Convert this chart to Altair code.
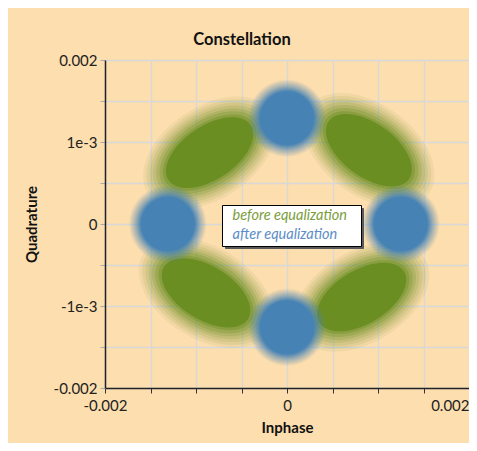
import altair as alt
import pandas as pd

# ---- data ----
series_names = ["before equalization", "after equalization"]
# cluster centres of the received symbols (Inphase, Quadrature)
green_i = [-0.85e-3, 0.90e-3, -0.89e-3, 0.82e-3]
green_q = [0.87e-3, 0.90e-3, -0.84e-3, -0.89e-3]
green_tilt = [326, 36, 32, 329]
blue_i = [0.0, 0.0, -1.31e-3, 1.25e-3]
blue_q = [1.29e-3, -1.26e-3, 0.0, 0.0]
blue_tilt = [0, 0, 0, 0]

tick_values = [-0.002, -0.0015, -0.001, -0.0005, 0.0, 0.0005, 0.001, 0.0015, 0.002]
x_label_values = [-0.002, 0.0, 0.002]
x_label_texts = ["-0.002", "0", "0.002"]
y_label_values = [-0.002, -0.001, 0.0, 0.001, 0.002]
y_label_texts = ["-0.002", "-1e-3", "0", "1e-3", "0.002"]

GREEN = (107, 142, 35)
BLUE = (70, 130, 180)
BG = "#fddeae"
FONT = "Lato"
NBSP = "\u00a0"

rows = []
for i, q, t in zip(green_i, green_q, green_tilt):
    rows.append({"I": i, "Q": q, "tilt": t, "series": series_names[0]})
for i, q, t in zip(blue_i, blue_q, blue_tilt):
    rows.append({"I": i, "Q": q, "tilt": t, "series": series_names[1]})
df = pd.DataFrame(rows)
df["series_b"] = df["series"]


def ellipse_path(r):
    k = 0.5523
    return (f"M-1,0 C-1,{-k*r} {-k},{-r} 0,{-r} C{k},{-r} 1,{-k*r} 1,0 "
            f"C1,{k*r} {k},{r} 0,{r} C{-k},{r} -1,{k*r} -1,0 Z")


def label_expr(values, texts):
    expr = "''"
    for v, t in reversed(list(zip(values, texts))):
        expr = f"abs(datum.value - ({v})) < 1e-9 ? '{t}' : " + expr
    return expr


def rgba(rgb, a):
    r, g, b = rgb
    return f"rgba({r},{g},{b},{a})"


def cloud_fill(rgb, core):
    mid = core + (1 - core) * 0.45
    return alt.RadialGradient(
        gradient="radial", x1=0.5, y1=0.5, r1=0, x2=0.5, y2=0.5, r2=0.5,
        stops=[alt.GradientStop(color=rgba(rgb, 1), offset=0),
               alt.GradientStop(color=rgba(rgb, 1), offset=core),
               alt.GradientStop(color=rgba(rgb, 0.5), offset=mid),
               alt.GradientStop(color=rgba(rgb, 0.0), offset=1)])


x_scale = alt.Scale(domain=[-0.002, 0.002], nice=False, zero=False)
y_scale = alt.Scale(domain=[-0.002, 0.002], nice=False, zero=False)

x_axis = alt.Axis(
    values=tick_values, labelExpr=label_expr(x_label_values, x_label_texts),
    title="Inphase", titleFont=FONT, titleFontSize=15, titleFontWeight="bold",
    titleColor="#111", titlePadding=7,
    labelFont=FONT, labelFontSize=15, labelColor="#222", labelPadding=5,
    labelAlign=alt.ExprRef(expr="datum.value > 0.0019 ? 'right' : 'center'"),
    labelOverlap=False,
    tickSize=5, tickColor="#333", domainColor="#222", domainWidth=1.5,
    grid=True, gridColor="#d8d8d8", gridWidth=1.3,
)
y_axis = alt.Axis(
    values=tick_values, labelExpr=label_expr(y_label_values, y_label_texts),
    title="Quadrature", titleFont=FONT, titleFontSize=15, titleFontWeight="bold",
    titleColor="#111", titlePadding=14,
    labelFont=FONT, labelFontSize=15, labelColor="#222", labelPadding=3,
    labelOverlap=False,
    tickSize=5, tickColor="#aaaaaa", domainColor="#222", domainWidth=1.5,
    grid=True, gridColor="#d8d8d8", gridWidth=1.3,
)

# drop shadow of the legend box: an empty legend of the same size, offset by 3px
shadow_legend = alt.Legend(
    orient="none", legendX=120, legendY=148, fillColor="#5a5a5a", strokeColor="#5a5a5a",
    padding=4, rowPadding=1, symbolSize=196, symbolOpacity=0, symbolStrokeWidth=0,
    labelOffset=0, labelExpr="''", labelFontSize=14.5,
    title=NBSP, titleOrient="right", titlePadding=115, titleFontSize=1, titleOpacity=0,
)
main_legend = alt.Legend(
    orient="none", legendX=117, legendY=145, fillColor="white", strokeColor="black",
    padding=4, rowPadding=4, symbolSize=4, symbolOpacity=0, symbolStrokeWidth=0,
    labelOffset=alt.ExprRef(expr="-8"),
    labelFont=FONT, labelFontSize=14.5, labelFontStyle="italic",
    labelColor=alt.ExprRef(
        expr="datum.label == 'before equalization' ? '#7a9e3c' : '#5b8dc6'"),
    title=NBSP, titleOrient="right", titlePadding=10, titleFontSize=1, titleOpacity=0,
)

base = alt.Chart(df)
enc = dict(
    x=alt.X("I:Q", scale=x_scale, axis=x_axis),
    y=alt.Y("Q:Q", scale=y_scale, axis=y_axis),
)


def green_layer(diam, ratio, opacity):
    return base.transform_filter(alt.datum.series == series_names[0]).mark_point(
        filled=True, shape=ellipse_path(ratio), fill=rgba(GREEN, 1),
        opacity=opacity, strokeWidth=0, size=diam * diam, clip=True,
    ).encode(angle=alt.Angle("tilt:Q", scale=None), **enc)


def blue_layer(diam, core):
    return base.transform_filter(alt.datum.series == series_names[1]).mark_point(
        filled=True, shape=ellipse_path(1.0), fill=cloud_fill(BLUE, core),
        opacity=1, strokeWidth=0, size=diam * diam, clip=True,
    ).encode(angle=alt.Angle("tilt:Q", scale=None), **enc)


legend_layer = base.mark_point(opacity=0, clip=True).encode(
    color=alt.Color("series:N", scale=alt.Scale(domain=series_names,
                    range=["#5a5a5a", "#5a5a5a"]), legend=shadow_legend),
    shape=alt.Shape("series_b:N", sort=series_names, legend=main_legend),
    **enc,
)

chart = alt.layer(
    legend_layer,
    green_layer(148, 0.62, 0.08),
    green_layer(141, 0.61, 0.1),
    green_layer(134, 0.6, 0.12),
    green_layer(127, 0.59, 0.15),
    green_layer(120, 0.58, 0.2),
    green_layer(113, 0.57, 0.28),
    green_layer(106, 0.55, 0.4),
    green_layer(99, 0.54, 1.0),
    blue_layer(78, 0.68),
).properties(
    width=364, height=328,
    padding={"left": 97, "top": 52, "right": 0, "bottom": 55},
    autosize="none",
    background=BG,
    title=alt.TitleParams("Constellation", font=FONT, fontSize=16.5, fontWeight="bold",
                          color="#111", dx=-45, dy=15, offset=7, baseline="alphabetic"),
).configure_view(strokeWidth=0)

chart.save("out.html", embed_options={"renderer": "svg", "actions": False})
